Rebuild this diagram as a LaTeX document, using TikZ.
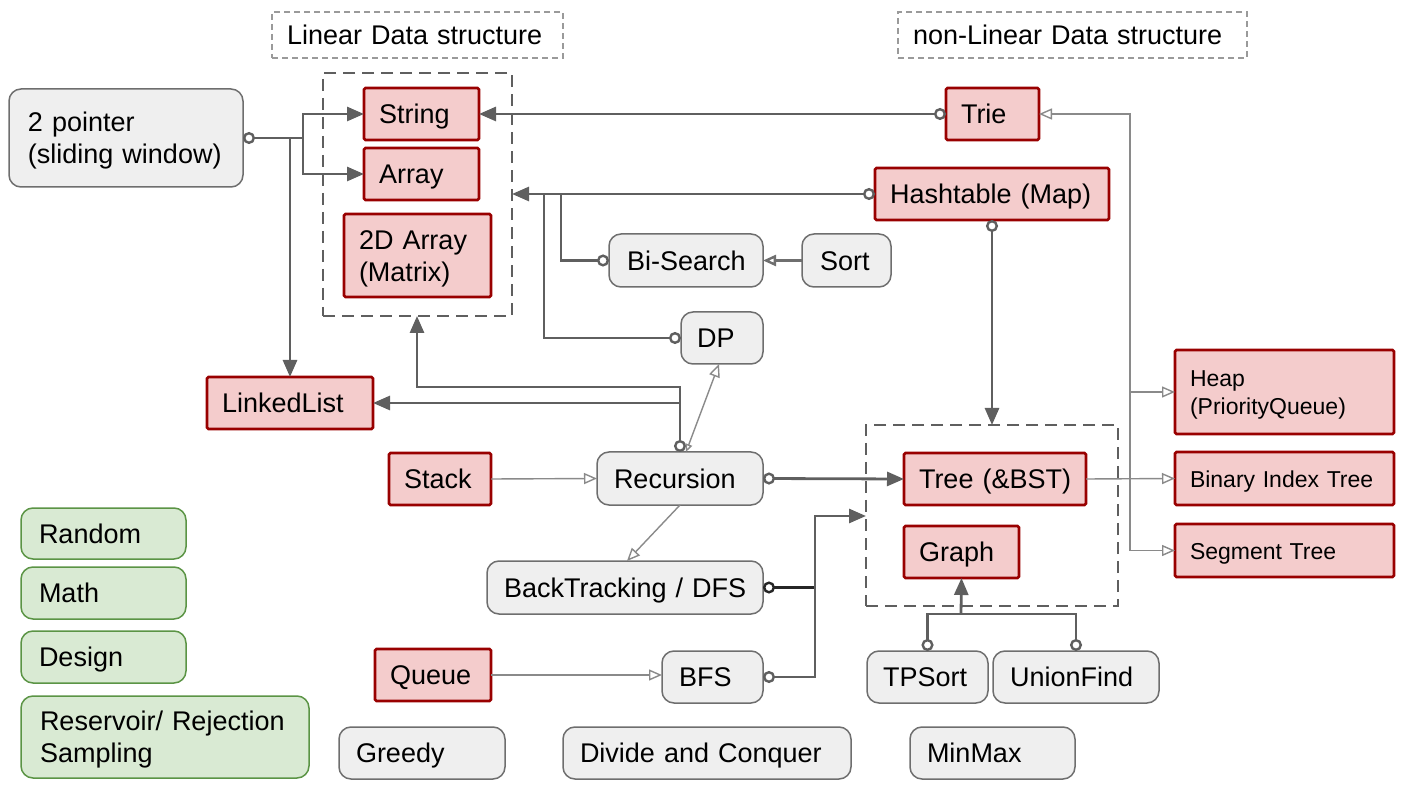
\documentclass[tikz,border=0pt]{standalone}
\usepackage{fontspec}
\setmainfont{Liberation Sans}
\usetikzlibrary{arrows.meta}
\definecolor{redfill}{HTML}{F4CCCC}
\definecolor{redline}{HTML}{990000}
\definecolor{grayfill}{HTML}{EFEFEF}
\definecolor{grayline}{HTML}{6E6E6E}
\definecolor{greenfill}{HTML}{D9EAD3}
\definecolor{greenline}{HTML}{5B9445}
\definecolor{thickc}{HTML}{5F5F5F}
\definecolor{thinc}{HTML}{8A8A8A}
\definecolor{midc}{HTML}{6F6F6F}
\definecolor{lblc}{HTML}{9A9A9A}
\definecolor{blkc}{HTML}{262626}
\newcommand\nl{\\\hspace*{\curinset}}
\newcommand\mybox[8]{%
  \pgfmathsetmacro\bw{#6-#4}%
  \pgfmathsetmacro\bh{#7-#5}%
  \pgfmathsetmacro\bcx{(#4+#6)/2}%
  \pgfmathsetmacro\bcy{-(#5+#7)/2}%
  \def\curinset{#3pt}%
  \node[#2, inner xsep=0pt, inner ysep=0pt, outer sep=0pt, minimum width=\bw pt, minimum height=\bh pt, text width=\bw pt, align=left] (#1) at (\bcx,\bcy) {\hyphenpenalty=10000\rule{0pt}{0.96em}\hspace*{#3pt}#8\rule[-0.22em]{0pt}{0.22em}};}
\tikzset{
  bigfont/.style={font=\fontsize{27}{32}\selectfont},
  smallfont/.style={font=\fontsize{23}{28}\selectfont},
  redbox/.style={bigfont, draw=redline, fill=redfill, line width=2.6pt, rounded corners=1.5pt},
  redsmall/.style={smallfont, draw=redline, fill=redfill, line width=2.6pt, rounded corners=1.5pt},
  graybox/.style={bigfont, draw=grayline, fill=grayfill, line width=1.5pt, rounded corners=12pt},
  greenbox/.style={bigfont, draw=greenline, fill=greenfill, line width=1.5pt, rounded corners=12pt},
  lblbox/.style={bigfont, draw=lblc, line width=1.4pt, dash pattern=on 6pt off 4pt},
  groupbox/.style={draw=thickc, line width=2.5pt, dash pattern=on 12pt off 7pt},
  thk/.style={draw=thickc, line width=2.8pt},
  blk/.style={draw=blkc, line width=2.8pt},
  thn/.style={draw=thinc, line width=1.4pt},
  mid/.style={draw=midc, line width=2.4pt},
  Cq/.tip={Circle[length=12pt, width=12pt, fill=white, line width=2.4pt]},
  Tq/.tip={Triangle[length=17pt, width=14pt]},
  Oq/.tip={Triangle[open, length=13pt, width=11pt]},
  Sq/.tip={Triangle[open, length=8pt, width=7pt]},
}
\begin{document}
\begin{tikzpicture}[x=1pt,y=1pt]
\useasboundingbox (0,0) rectangle (1409,-791);
% groups and titles
\mybox{lintitle}{lblbox}{15}{272}{12}{563}{58}{Linear Data structure}
\mybox{nontitle}{lblbox}{15}{898}{12}{1247}{58}{non-Linear Data structure}
\mybox{lingroup}{groupbox}{0}{323}{73}{512}{316}{}
\mybox{nongroup}{groupbox}{0}{866}{425}{1118}{606}{}
% nodes
\mybox{twoptr}{graybox}{19}{9}{89}{243}{187}{2 pointer\nl(sliding window)}
\mybox{string}{redbox}{15}{364}{88}{479}{140}{String}
\mybox{array}{redbox}{15}{364}{148}{479}{200}{Array}
\mybox{matrix}{redbox}{15}{344}{214}{491}{297}{2D Array\nl(Matrix)}
\mybox{trie}{redbox}{15}{946}{88}{1039}{140}{Trie}
\mybox{hash}{redbox}{15}{875}{168}{1109}{220}{Hashtable (Map)}
\mybox{bisearch}{graybox}{18}{609}{234}{763}{287}{Bi-Search}
\mybox{sort}{graybox}{18}{802}{234}{891}{287}{Sort}
\mybox{dp}{graybox}{16}{681}{312}{763}{364}{DP}
\mybox{linked}{redbox}{15}{207}{377}{373}{429}{LinkedList}
\mybox{heap}{redsmall}{15}{1175}{350}{1394}{434}{Heap\nl(PriorityQueue)}
\mybox{stack}{redbox}{15}{389}{453}{491}{505}{Stack}
\mybox{recursion}{graybox}{17}{597}{452}{763}{505}{Recursion}
\mybox{tree}{redbox}{15}{904}{453}{1086}{505}{Tree (\&BST)}
\mybox{bit}{redsmall}{15}{1175}{452}{1394}{505}{Binary Index Tree}
\mybox{graph}{redbox}{15}{904}{526}{1019}{578}{Graph}
\mybox{segment}{redsmall}{15}{1175}{524}{1394}{577}{Segment Tree}
\mybox{random}{greenbox}{18}{21}{508}{186}{559}{Random}
\mybox{math}{greenbox}{18}{21}{567}{186}{619}{Math}
\mybox{design}{greenbox}{18}{21}{631}{186}{683}{Design}
\mybox{reservoir}{greenbox}{19}{21}{696}{309}{778}{Reservoir/ Rejection\nl Sampling}
\mybox{backtrack}{graybox}{17}{487}{561}{763}{614}{BackTracking / DFS}
\mybox{queue}{redbox}{15}{375}{649}{491}{701}{Queue}
\mybox{bfs}{graybox}{17}{662}{651}{763}{703}{BFS}
\mybox{tpsort}{graybox}{16}{867}{651}{988}{703}{TPSort}
\mybox{union}{graybox}{17}{993}{651}{1159}{703}{UnionFind}
\mybox{greedy}{graybox}{17}{339}{727}{505}{779}{Greedy}
\mybox{divide}{graybox}{17}{563}{727}{851}{779}{Divide and Conquer}
\mybox{minmax}{graybox}{17}{910}{727}{1075}{779}{MinMax}
% junction coordinates
\coordinate (j1) at (303,-138);
\coordinate (jb) at (561,-194);
\coordinate (jd) at (544,-194);
\coordinate (jl) at (417,-387);
\coordinate (jt) at (815,-516);
\coordinate (jg) at (961,-614);
\coordinate (bus) at (1130,0);
% 2 pointer
\draw[thk,Cq-] (twoptr.east) -- (j1);
\draw[thk,-Tq] (j1) |- (string.west);
\draw[thk,-Tq] (j1) |- (array.west);
\draw[thk,-Tq] (linked.north |- twoptr.east) -- (linked.north);
% trie -> string
\draw[thk,Cq-Tq] (trie.west) -- (string.east);
% hashtable, bi-search, dp -> linear
\draw[thk,Cq-Tq] (hash.west) -- (hash.west -| lingroup.east);
\draw[thk,Cq-] (bisearch.west) -| (jb);
\draw[thk,Cq-] (dp.west) -| (jd);
\draw[mid,-Oq] (sort.west) -- (bisearch.east);
% recursion
\draw[thk,-Tq] (recursion.north) |- (jl) -- (jl |- lingroup.south);
\draw[thk,Cq-Tq] (recursion.north) |- (linked.east);
\draw[thn,Sq-Oq] ([xshift=6pt]recursion.north) -- ([xshift=-3pt]dp.south);
\draw[thn,-Oq] (stack.east) -- (recursion.west);
\draw[thk,Cq-Tq] (recursion.east) -- (tree.west);
\draw[thn,-Oq] (recursion.south) -- ([xshift=2pt]backtrack.north);
% dfs / bfs -> nonlinear
\draw[blk,Cq-] (backtrack.east) -- (backtrack.east -| jt);
\draw[thk,Cq-Tq] (bfs.east) -| (jt) -- (jt -| nongroup.west);
\draw[thn,-Oq] (queue.east) -- (queue.east -| bfs.west);
% hashtable -> nonlinear
\draw[thk,Cq-Tq] (hash.south) -- (hash.south |- nongroup.north);
% tpsort, unionfind -> graph
\draw[thk,Cq-Cq] (tpsort.north) |- (jg) -| (union.north);
\draw[thk,-Tq] (jg) -- (graph.south);
% tree -> others
\draw[thn,-Oq] (tree.east) -- (bit.west);
\draw[thn,-Oq] (segment.west -| bus) |- (trie.east);
\draw[thn,-Oq] (segment.west -| bus) -- (segment.west);
\draw[thn,-Oq] (heap.west -| bus) -- (heap.west);
\end{tikzpicture}
\end{document}
